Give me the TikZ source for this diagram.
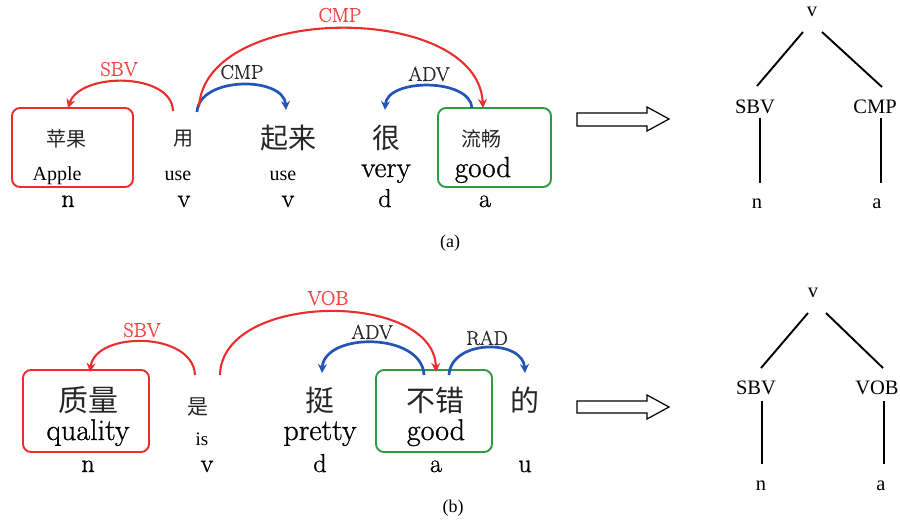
\documentclass[tikz,border=0pt]{standalone}
\usepackage{fontspec}
\newfontfamily\tnr{Liberation Serif}
\newfontfamily\cjk{Noto Sans CJK SC}
\newfontfamily\lmh{Latin Modern Roman}[FakeBold=0.9]
\usetikzlibrary{arrows.meta}
\definecolor{arcred}{RGB}{235,45,45}
\definecolor{lblred}{RGB}{240,70,70}
\definecolor{arcblue}{RGB}{35,85,185}
\definecolor{boxgreen}{RGB}{45,155,65}
\begin{document}
\begin{tikzpicture}[x=1pt,y=-1pt,
  every node/.style={inner sep=0pt},
  cjks/.style={font=\cjk\fontsize{20}{20}\selectfont,text=black!85},
  cjkl/.style={font=\cjk\fontsize{28}{28}\selectfont,text=black!85},
  cjkm/.style={font=\cjk\fontsize{21}{21}\selectfont,text=black!85},
  cjkb/.style={font=\cjk\fontsize{30}{30}\selectfont,text=black!85},
  tnrs/.style={font=\tnr\fontsize{20}{20}\selectfont,anchor=base},
  cmw/.style={font=\lmh\fontsize{29}{29}\selectfont,anchor=base},
  cmb/.style={font=\lmh\fontsize{30}{30}\selectfont,anchor=base},
  postag/.style={font=\lmh\fontsize{26}{26}\selectfont,anchor=base},
  arclbl/.style={font=\lmh\fontsize{20}{20}\selectfont},
  treelbl/.style={font=\tnr\fontsize{20.5}{20.5}\selectfont},
  caplbl/.style={font=\tnr\fontsize{18}{18}\selectfont},
  tipstyle/.style={-{Stealth[length=9pt,width=9pt,inset=3pt]}},
  redarc/.style={draw=arcred,line width=2.1pt,tipstyle},
  bluearc/.style={draw=arcblue,line width=2.7pt,tipstyle},
  redbox/.style={draw=arcred,line width=1.9pt,rounded corners=8pt},
  greenbox/.style={draw=boxgreen,line width=1.9pt,rounded corners=8pt},
  treeline/.style={draw=black,line width=1.9pt},
  hollow/.style={draw=black,line width=1.2pt,fill=white}
]
\useasboundingbox (0,0) rectangle (900,525);

% ---------------- (a) ----------------
\draw[redbox] (12,108) rectangle (133,187);
\draw[greenbox] (438,108) rectangle (551,187);

\node[cjks] (pingguo) at (66,139) {苹果};
\node[tnrs] (apple) at (57,180) {Apple};
\node[postag] (pa1) at (68,207) {n};
\node[cjks] (yong) at (183,139) {用};
\node[tnrs] (use1) at (178,180) {use};
\node[postag] (pa2) at (184,207) {v};
\node[cjkl] (qilai) at (288,138) {起来};
\node[tnrs] (use2) at (283,180) {use};
\node[postag] (pa3) at (288,207) {v};
\node[cjkl] (hen) at (386,138) {很};
\node[cmw] (very) at (386,177) {very};
\node[postag] (pa4) at (385,207) {d};
\node[cjks] (liuchang) at (481,139) {流畅};
\node[cmw] (good1) at (483,177) {good};
\node[postag] (pa5) at (485,207) {a};

\coordinate (a-sbv-s) at (173,111);
\coordinate (a-sbv-e) at (68,108);
\coordinate (a-cmp-s) at (197,112);
\coordinate (a-cmp-e) at (286,110);
\coordinate (a-big-s) at (199,107);
\coordinate (a-big-e) at (483,108);
\coordinate (a-adv-s) at (472,108);
\coordinate (a-adv-e) at (385,110);

\draw[redarc] (a-sbv-s) .. controls (172,72) and (80,72) .. (a-sbv-e);
\draw[bluearc] (a-cmp-s) .. controls (199,76) and (284,76) .. (a-cmp-e);
\draw[redarc] (a-big-s) .. controls (205,2) and (478,2) .. (a-big-e);
\draw[bluearc] (a-adv-s) .. controls (470,78) and (387,78) .. (a-adv-e);

\node[arclbl,text=lblred] (l-a-sbv) at (119,69) {SBV};
\node[arclbl,text=black!85] (l-a-cmp) at (242,72) {CMP};
\node[arclbl,text=lblred] (l-a-big) at (340,15) {CMP};
\node[arclbl,text=black!85] (l-a-adv) at (429,74) {ADV};

\node[caplbl] (capa) at (450,243) {(a)};

% arrow (a)
\draw[hollow] (577,113) -- (647,113) -- (647,107) -- (669,119) -- (647,131) -- (647,126) -- (577,126) -- cycle;

% tree (a)
\node[treelbl] (ta-v) at (812,12) {v};
\node[treelbl] (ta-s) at (755,107) {SBV};
\node[treelbl] (ta-c) at (875,107) {CMP};
\node[treelbl] (ta-n) at (757,204) {n};
\node[treelbl] (ta-a) at (877,204) {a};
\coordinate (ta1) at (803,32);
\coordinate (ta2) at (757,86);
\coordinate (ta3) at (822,32);
\coordinate (ta4) at (882,87);
\coordinate (ta5) at (760,118);
\coordinate (ta6) at (760,183);
\coordinate (ta7) at (881,118);
\coordinate (ta8) at (881,183);
\draw[treeline] (ta1) -- (ta2);
\draw[treeline] (ta3) -- (ta4);
\draw[treeline] (ta5) -- (ta6);
\draw[treeline] (ta7) -- (ta8);

% ---------------- (b) ----------------
\draw[redbox] (23,370) rectangle (149,452);
\draw[greenbox] (376,370) rectangle (492,452);

\node[cjkb] (zhiliang) at (88,400) {质量};
\node[cmb] (quality) at (88,440) {quality};
\node[postag] (pb1) at (88,472) {n};
\node[cjkm] (shi) at (198,407) {是};
\node[tnrs,font=\tnr\fontsize{19}{19}\selectfont] (is) at (202,445) {is};
\node[postag] (pb2) at (207,472) {v};
\node[cjkb,font=\cjk\fontsize{29}{29}\selectfont] (ting) at (320,400) {挺};
\node[cmb] (pretty) at (320,440) {pretty};
\node[postag] (pb3) at (320,472) {d};
\node[cjkb,font=\cjk\fontsize{29}{29}\selectfont] (bucuo) at (435,400) {不错};
\node[cmb] (good2) at (436,440) {good};
\node[postag] (pb4) at (436,472) {a};
\node[cjkb,font=\cjk\fontsize{29}{29}\selectfont] (de) at (525,400) {的};
\node[postag] (pb5) at (525,472) {u};

\coordinate (b-sbv-s) at (195,375);
\coordinate (b-sbv-e) at (90,372);
\coordinate (b-vob-s) at (220,375);
\coordinate (b-vob-e) at (436,372);
\coordinate (b-adv-s) at (424,375);
\coordinate (b-adv-e) at (322,373);
\coordinate (b-rad-s) at (449,375);
\coordinate (b-rad-e) at (525,373);

\draw[redarc] (b-sbv-s) .. controls (193,331) and (95,331) .. (b-sbv-e);
\draw[redarc] (b-vob-s) .. controls (222,291) and (434,291) .. (b-vob-e);
\draw[bluearc] (b-adv-s) .. controls (422,332) and (324,332) .. (b-adv-e);
\draw[bluearc] (b-rad-s) .. controls (451,339) and (523,339) .. (b-rad-e);

\node[arclbl,text=lblred] (l-b-sbv) at (142,330) {SBV};
\node[arclbl,text=lblred] (l-b-vob) at (328,298) {VOB};
\node[arclbl,text=black!85] (l-b-adv) at (372,332) {ADV};
\node[arclbl,text=black!85] (l-b-rad) at (487,338) {RAD};

\node[caplbl] (capb) at (453,508) {(b)};

% arrow (b)
\draw[hollow] (577,401) -- (647,401) -- (647,395) -- (669,407) -- (647,419) -- (647,413) -- (577,413) -- cycle;

% tree (b)
\node[treelbl] (tb-v) at (813,293) {v};
\node[treelbl] (tb-s) at (756,388) {SBV};
\node[treelbl] (tb-o) at (877,388) {VOB};
\node[treelbl] (tb-n) at (761,486) {n};
\node[treelbl] (tb-a) at (881,486) {a};
\coordinate (tb1) at (808,313);
\coordinate (tb2) at (761,368);
\coordinate (tb3) at (826,313);
\coordinate (tb4) at (883,368);
\coordinate (tb5) at (762,401);
\coordinate (tb6) at (762,464);
\coordinate (tb7) at (884,401);
\coordinate (tb8) at (884,464);
\draw[treeline] (tb1) -- (tb2);
\draw[treeline] (tb3) -- (tb4);
\draw[treeline] (tb5) -- (tb6);
\draw[treeline] (tb7) -- (tb8);
\end{tikzpicture}
\end{document}
